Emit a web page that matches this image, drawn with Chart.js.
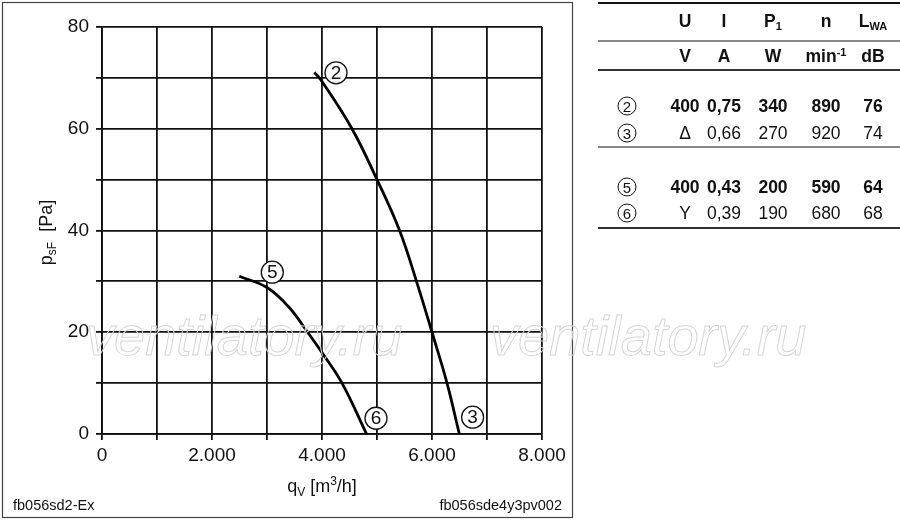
<!DOCTYPE html>
<html>
<head>
<meta charset="utf-8">
<script src="https://cdn.jsdelivr.net/npm/chart.js@4.4.1/dist/chart.umd.min.js"></script>
<style>
  html, body { margin: 0; padding: 0; background: #fff; }
  body { width: 900px; height: 520px; position: relative; overflow: hidden; font-family: 'Liberation Sans', Arial, sans-serif; color: #111; }
  #wrap { position: absolute; left: 0; top: 0; width: 900px; height: 520px; }
  .t { position: absolute; transform: translate(-50%, -50%); white-space: nowrap; font-size: 17.5px; }
  .b { font-weight: bold; }
  .t sub, .t sup { font-size: 11px; }
  .t sub { vertical-align: -3px; }
  .t sup { vertical-align: 6px; }
  .rule { position: absolute; left: 598px; width: 302px; }
  .circ { position: absolute; width: 17px; height: 17px; border: 1.2px solid #111; border-radius: 50%; transform: translate(-50%, -50%); font-size: 15px; line-height: 17px; text-align: center; }
</style>
</head>
<body>
<div id="wrap"><canvas id="myChart"></canvas></div>
<div id="table"></div>
<script>
// axis ticks
const xTickValues = [0, 1000, 2000, 3000, 4000, 5000, 6000, 7000, 8000];
const xTickLabels = ['0', '', '2.000', '', '4.000', '', '6.000', '', '8.000'];
const yTickValues = [0, 10, 20, 30, 40, 50, 60, 70, 80];
const yTickLabels = ['0', '', '20', '', '40', '', '60', '', '80'];

// curve 2 -> 3 (qV in m3/h, psF in Pa)
const qv23 = [3860, 4000, 4545, 5000, 5410, 5718, 6000, 6273, 6497];
const ps23 = [71.1, 69.3, 60, 50, 40, 30, 20, 10, 0];
// curve 5 -> 6
const qv56 = [2496, 3000, 3393, 3738, 4000, 4364, 4810];
const ps56 = [31.0, 28.8, 25, 20, 16.0, 10, 0];

// circled curve markers
const markNames = ['2', '3', '5', '6'];
const markQ = [4255, 6738, 3096, 4982];
const markP = [71.0, 3.3, 31.8, 3.1];

// table on the right
const colHeads = ['U', 'I', 'P<sub>1</sub>', 'n', 'L<sub>WA</sub>'];
const colUnits = ['V', 'A', 'W', 'min<sup>-1</sup>', 'dB'];
const rowNames = ['2', '3', '5', '6'];
const rowU = ['400', '\u0394', '400', 'Y'];
const rowI = ['0,75', '0,66', '0,43', '0,39'];
const rowP = ['340', '270', '200', '190'];
const rowN = ['890', '920', '590', '680'];
const rowL = ['76', '74', '64', '68'];
const rowBold = [true, false, true, false];

const FONT = "'Liberation Sans', Arial, sans-serif";

function buildTable() {
    const el = document.getElementById('table');
    const colX = [685, 724, 773, 826, 873];
    const rowY = [106, 132.5, 186.5, 213];
    let html = '';
    colHeads.forEach(function(h, i) {
        html += '<div class="t b" style="left:' + colX[i] + 'px;top:21px">' + h + '</div>';
        html += '<div class="t b" style="left:' + colX[i] + 'px;top:56px">' + colUnits[i] + '</div>';
    });
    rowNames.forEach(function(name, r) {
        const cells = [rowU[r], rowI[r], rowP[r], rowN[r], rowL[r]];
        const cls = rowBold[r] ? 't b' : 't';
        html += '<div class="circ" style="left:627px;top:' + rowY[r] + 'px">' + name + '</div>';
        cells.forEach(function(c, i) {
            html += '<div class="' + cls + '" style="left:' + colX[i] + 'px;top:' + rowY[r] + 'px">' + c + '</div>';
        });
    });
    // horizontal rules
    html += '<div class="rule" style="top:2px;height:1.5px;background:#111"></div>';
    html += '<div class="rule" style="top:40px;height:1.5px;background:#888"></div>';
    html += '<div class="rule" style="top:69px;height:1.5px;background:#333"></div>';
    html += '<div class="rule" style="top:146px;height:2px;background:#888"></div>';
    html += '<div class="rule" style="top:227px;height:1.5px;background:#333"></div>';
    el.innerHTML = html;
}

function toPoints(xs, ys) {
    return xs.map(function(x, i) { return { x: x, y: ys[i] }; });
}

// draws text pieces [text, size, baselineShift] one after another
function drawPieces(ctx, pieces, x, y) {
    let total = 0;
    pieces.forEach(function(p) {
        ctx.font = p[1] + 'px ' + FONT;
        total += ctx.measureText(p[0]).width;
    });
    let cx = x - total / 2;
    pieces.forEach(function(p) {
        ctx.font = p[1] + 'px ' + FONT;
        ctx.fillText(p[0], cx, y + p[2]);
        cx += ctx.measureText(p[0]).width;
    });
}

const decor = {
    id: 'decor',
    afterDraw(chart) {
        const ctx = chart.ctx;
        const xs = chart.scales.x, ys = chart.scales.y, a = chart.chartArea;
        ctx.save();
        ctx.fillStyle = '#111';
        ctx.textAlign = 'left';
        ctx.textBaseline = 'alphabetic';

        // frame round the diagram
        ctx.strokeStyle = '#444';
        ctx.lineWidth = 1.2;
        ctx.strokeRect(2.5, 2.5, 570, 515);

        // axis titles
        drawPieces(ctx, [['q', 18, 0], ['V', 12, 4], [' [m', 18, 0], ['3', 12, -7], ['/h]', 18, 0]], (a.left + a.right) / 2, 492);
        ctx.save();
        ctx.translate(52, (a.top + a.bottom) / 2 + 2);
        ctx.rotate(-Math.PI / 2);
        drawPieces(ctx, [['p', 18, 0], ['sF', 12, 4], ['  [Pa]', 18, 0]], 0, 0);
        ctx.restore();

        // file names
        ctx.font = '14.5px ' + FONT;
        ctx.fillText('fb056sd2-Ex', 13, 510);
        ctx.textAlign = 'right';
        ctx.fillText('fb056sde4y3pv002', 562, 510);

        // circled markers
        ctx.textAlign = 'center';
        ctx.textBaseline = 'middle';
        markNames.forEach(function(n, i) {
            const px = xs.getPixelForValue(markQ[i]);
            const py = ys.getPixelForValue(markP[i]);
            ctx.beginPath();
            ctx.arc(px, py, 11, 0, Math.PI * 2);
            ctx.fillStyle = '#fff';
            ctx.fill();
            ctx.lineWidth = 1.3;
            ctx.strokeStyle = '#111';
            ctx.stroke();
            ctx.fillStyle = '#111';
            ctx.font = '19px ' + FONT;
            ctx.fillText(n, px, py + 1);
        });

        // watermark
        ctx.textAlign = 'left';
        ctx.textBaseline = 'alphabetic';
        ctx.font = 'italic 56px ' + FONT;
        ctx.strokeStyle = '#d6d6d6';
        ctx.lineWidth = 1;
        ctx.strokeText('ventilatory.ru', 86, 355);
        ctx.strokeText('ventilatory.ru', 490, 355);
        ctx.restore();
    }
};

function initChart() {
    const ctx = document.getElementById('myChart').getContext('2d');
    const lineStyle = {
        showLine: true,
        pointRadius: 0,
        borderColor: '#000',
        borderWidth: 2.8,
        tension: 0.4,
        fill: false
    };
    new Chart(ctx, {
        type: 'scatter',
        data: {
            datasets: [
                Object.assign({ label: '2-3', data: toPoints(qv23, ps23) }, lineStyle),
                Object.assign({ label: '5-6', data: toPoints(qv56, ps56) }, lineStyle)
            ]
        },
        options: {
            responsive: true,
            maintainAspectRatio: false,
            animation: false,
            layout: { padding: { left: 0, top: 27, right: 358, bottom: 0 } },
            plugins: {
                legend: { display: false },
                tooltip: { enabled: false }
            },
            scales: {
                x: {
                    type: 'linear',
                    min: 0,
                    max: 8000,
                    afterBuildTicks: function(s) { s.ticks = xTickValues.map(function(v) { return { value: v }; }); },
                    afterFit: function(s) { s.height = 86; },
                    ticks: {
                        autoSkip: false,
                        maxRotation: 0,
                        padding: 4,
                        color: '#111',
                        font: { family: FONT, size: 19 },
                        callback: function(v) { return xTickLabels[xTickValues.indexOf(v)]; }
                    },
                    grid: { color: '#111', lineWidth: 1.8, tickLength: 6 },
                    border: { color: '#111', width: 1.8 }
                },
                y: {
                    type: 'linear',
                    min: 0,
                    max: 80,
                    afterBuildTicks: function(s) { s.ticks = yTickValues.map(function(v) { return { value: v }; }); },
                    afterFit: function(s) { s.width = 102; },
                    ticks: {
                        autoSkip: false,
                        padding: 7,
                        color: '#111',
                        font: { family: FONT, size: 19 },
                        callback: function(v) { return yTickLabels[yTickValues.indexOf(v)]; }
                    },
                    grid: { color: '#111', lineWidth: 1.8, tickLength: 6 },
                    border: { color: '#111', width: 1.8 }
                }
            }
        },
        plugins: [decor]
    });
}

document.addEventListener('DOMContentLoaded', function() {
    buildTable();
    initChart();
});
</script>
</body>
</html>
